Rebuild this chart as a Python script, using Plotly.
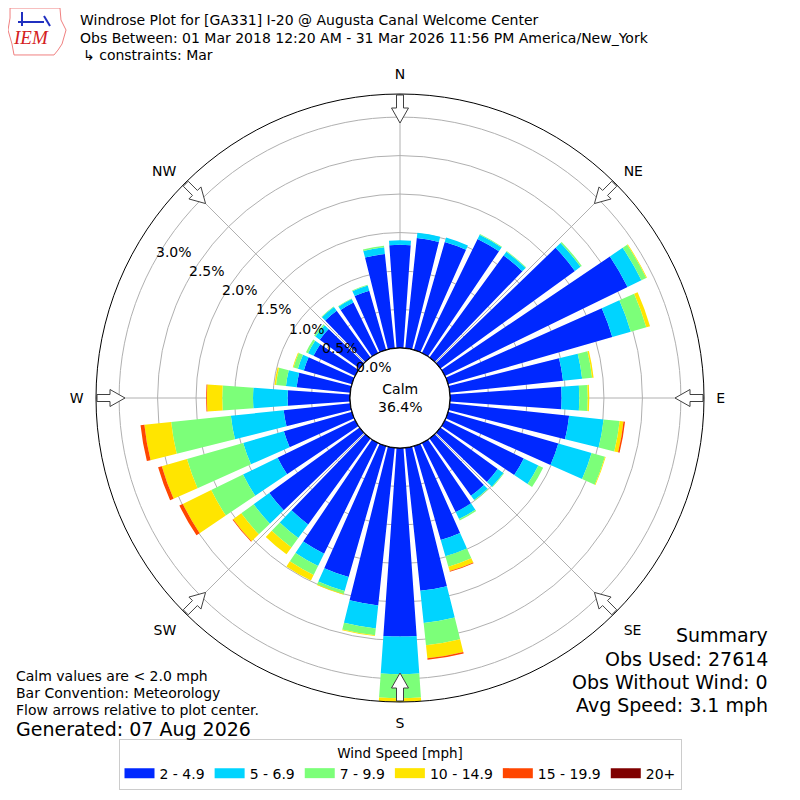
import math
import plotly.graph_objects as go

# direction bins (degrees from north) and frequency (%) per speed class
directions = list(range(0, 360, 10))
speed_labels = ["2 - 4.9", "5 - 6.9", "7 - 9.9", "10 - 14.9", "15 - 19.9", "20+"]
speed_colors = ["#0028ff", "#00d4ff", "#7cff79", "#ffe500", "#ff4600", "#7f0000"]

s2_5 = [1.34, 1.44, 1.46, 1.65, 1.64, 2.16, 2.64, 2.22, 1.48, 1.45, 1.56, 1.49,
        1.14, 0.92, 0.92, 1.00, 1.27, 1.87, 2.45, 2.06, 1.77, 1.60, 1.38, 1.45,
        1.12, 0.92, 0.87, 0.81, 0.70, 0.65, 0.60, 0.64, 0.75, 0.73, 0.80, 1.23]
s5_7 = [0.06, 0.07, 0.06, 0.06, 0.06, 0.09, 0.20, 0.25, 0.25, 0.23, 0.45, 0.45,
        0.21, 0.09, 0.07, 0.10, 0.22, 0.42, 0.49, 0.30, 0.19, 0.18, 0.22, 0.25,
        0.50, 0.55, 0.69, 0.45, 0.14, 0.08, 0.08, 0.07, 0.06, 0.05, 0.07, 0.09]
s7_10 = [0.00, 0.00, 0.00, 0.01, 0.01, 0.02, 0.07, 0.21, 0.13, 0.11, 0.21, 0.18,
         0.07, 0.01, 0.01, 0.02, 0.14, 0.29, 0.31, 0.09, 0.04, 0.13, 0.15, 0.20,
         0.46, 0.76, 0.78, 0.40, 0.13, 0.06, 0.03, 0.02, 0.01, 0.01, 0.01, 0.02]
s10_15 = [0.00, 0.00, 0.00, 0.00, 0.00, 0.00, 0.01, 0.05, 0.02, 0.02, 0.05, 0.01,
          0.00, 0.00, 0.00, 0.00, 0.06, 0.17, 0.05, 0.01, 0.01, 0.08, 0.11, 0.13,
          0.41, 0.34, 0.35, 0.20, 0.02, 0.01, 0.00, 0.00, 0.00, 0.00, 0.00, 0.00]
s15_20 = [0.00, 0.00, 0.00, 0.00, 0.00, 0.00, 0.00, 0.00, 0.00, 0.00, 0.02, 0.00,
          0.00, 0.00, 0.00, 0.00, 0.01, 0.02, 0.00, 0.00, 0.00, 0.00, 0.00, 0.01,
          0.05, 0.05, 0.05, 0.01, 0.00, 0.00, 0.00, 0.00, 0.00, 0.00, 0.00, 0.00]
s20p = [0.0] * 36
speed_values = [s2_5, s5_7, s7_10, s10_15, s15_20, s20p]

calm_pct = 36.4
r_max = 3.30
ring_ticks = [0.0, 0.5, 1.0, 1.5, 2.0, 2.5, 3.0]
compass_angles = [0, 45, 90, 135, 180, 225, 270, 315]
compass_labels = ["N", "NE", "E", "SE", "S", "SW", "W", "NW"]

# page body has an 8px margin, so the figure is 784 px and coords are shifted
OFF = 8
FW = FH = 784
CX, CY, R_OUT, R_HOLE = 400, 398, 304, 50
FONT = "DejaVu Sans"


def px(x, y):
    return (x - OFF) / FW, 1 - (y - OFF) / FH


fig = go.Figure()

for lab, col, vals in zip(speed_labels, speed_colors, speed_values):
    fig.add_trace(go.Barpolar(
        r=vals, theta=directions, width=8, name=lab, showlegend=False,
        marker=dict(color=col, line=dict(width=0)),
    ))
# legend swatches (wide rectangles like the original)
for lab, col in zip(speed_labels, speed_colors):
    fig.add_trace(go.Scatterpolar(
        r=[None], theta=[None], mode="lines", name=lab,
        line=dict(color=col, width=10), hoverinfo="skip"))

# calm circle outline at the hole edge
ring_theta = [i * 2 for i in range(181)]
fig.add_trace(go.Scatterpolar(
    r=[0] * len(ring_theta), theta=ring_theta, mode="lines",
    line=dict(color="black", width=1.3), showlegend=False, hoverinfo="skip"))

# flow arrows pointing at plot center
scale = r_max / (R_OUT - R_HOLE)
shape_pts = [(303, -3.5), (290, -3.5), (290, -8.5), (275, 0), (290, 8.5), (290, 3.5),
             (303, 3.5), (303, -3.5)]
for ang in compass_angles:
    rr, tt = [], []
    for d, w in shape_pts:
        rr.append((math.hypot(d, w) - R_HOLE) * scale)
        tt.append(ang + math.degrees(math.atan2(w, d)))
    fig.add_trace(go.Scatterpolar(
        r=rr, theta=tt, mode="lines", fill="toself", fillcolor="white",
        line=dict(color="#404040", width=1), showlegend=False, hoverinfo="skip"))

dx0, dy0 = px(CX - R_OUT, CY + R_OUT)
dx1, dy1 = px(CX + R_OUT, CY - R_OUT)
lgx, lgy = px(400, 790)

fig.update_layout(
    width=FW, height=FH,
    margin=dict(l=0, r=0, t=0, b=0),
    paper_bgcolor="white",
    font=dict(family=FONT, size=14, color="black"),
    polar=dict(
        domain=dict(x=[dx0, dx1], y=[dy0, dy1]),
        hole=R_HOLE / R_OUT,
        bgcolor="white",
        barmode="stack",
        radialaxis=dict(
            range=[0, r_max], tickvals=ring_ticks, showticklabels=False,
            showline=False, ticks="",
            gridcolor="#b0b0b0", gridwidth=1, layer="above traces",
        ),
        angularaxis=dict(
            rotation=90, direction="clockwise",
            tickvals=compass_angles, ticktext=compass_labels,
            ticks="outside", ticklen=9, tickcolor="rgba(0,0,0,0)",
            showline=True, linecolor="black", linewidth=1,
            gridcolor="#b0b0b0", gridwidth=1, layer="above traces",
            tickfont=dict(size=14),
        ),
    ),
    legend=dict(
        orientation="h", x=lgx, xanchor="center", y=lgy, yanchor="bottom",
        title=dict(text="Wind Speed [mph]", side="top center", font=dict(size=13.5)),
        bordercolor="#cccccc", borderwidth=1, bgcolor="white",
        font=dict(size=14), traceorder="normal", itemwidth=30,
    ),
)

ann = []


def text(x, y, s, size=14, xanchor="left", **kw):
    # annotations carry a little padding; nudge so the glyphs land where they should
    if xanchor == "left":
        x -= 2
    elif xanchor == "right":
        x += 2
    ax, ay = px(x, y)
    ann.append(dict(x=ax, y=ay, xref="paper", yref="paper", text=s, showarrow=False,
                    xanchor=xanchor, yanchor="middle", font=dict(size=size, family=FONT, **kw)))


text(80, 20, "Windrose Plot for [GA331] I-20 @ Augusta Canal Welcome Center", 14)
text(80, 38, "Obs Between: 01 Mar 2018 12:20 AM - 31 Mar 2026 11:56 PM America/New_York", 14)
text(83, 55, "↳ constraints: Mar", 14)

text(16, 676, "Calm values are < 2.0 mph", 14)
text(16, 693, "Bar Convention: Meteorology", 14)
text(16, 710, "Flow arrows relative to plot center.", 14)
text(16, 729, "Generated: 07 Aug 2026", 19)

text(768, 635, "Summary", 19, xanchor="right")
text(768, 659, "Obs Used: 27614", 19, xanchor="right")
text(768, 682, "Obs Without Wind: 0", 19, xanchor="right")
text(768, 705, "Avg Speed: 3.1 mph", 19, xanchor="right")

text(CX, CY, f"Calm<br>{calm_pct:.1f}%", 14, xanchor="center")

# ring labels along the 300 degree bearing, as in the original
for v in ring_ticks:
    rp = R_HOLE + v / r_max * (R_OUT - R_HOLE)
    lx = CX + rp * math.cos(math.radians(150)) + 17
    ly = CY - rp * math.sin(math.radians(150)) - 6
    text(lx, ly, f"{v:.1f}%", 14, xanchor="center")

# IEM logo
text(31, 38, "<i>IEM</i>", 19, xanchor="center", color="#d42020")
fig.update_layout(annotations=ann)

outline = [(10, 8), (60, 8), (61, 20), (66, 30), (62, 44), (58, 50), (54, 55),
           (14, 55), (12, 44), (8, 30), (10, 18), (10, 8)]
path = "M " + " L ".join(f"{px(x, y)[0]:.4f},{px(x, y)[1]:.4f}" for x, y in outline) + " Z"
fig.add_shape(type="path", path=path, xref="paper", yref="paper",
              line=dict(color="#f08080", width=1))
for (x0, y0, x1, y1) in [(18, 22, 44, 22), (22, 12, 22, 26), (44, 16, 50, 26)]:
    a0, b0 = px(x0, y0)
    a1, b1 = px(x1, y1)
    fig.add_shape(type="line", x0=a0, y0=b0, x1=a1, y1=b1, xref="paper", yref="paper",
                  line=dict(color="#2030c0", width=2))
fig.layout.annotations[-1].font.family = "Liberation Serif"

fig.write_html("out.html")
